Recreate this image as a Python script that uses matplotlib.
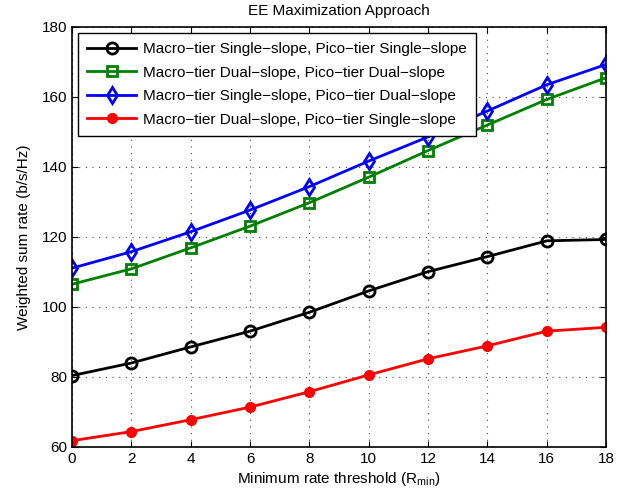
import numpy as np
import matplotlib
matplotlib.use("Agg")
import matplotlib.pyplot as plt

# Données
r_min = [0, 2, 4, 6, 8, 10, 12, 14, 16, 18]
ss_ss = [80.4, 84.0, 88.6, 93.1, 98.5, 104.6, 110.1, 114.4, 118.9, 119.3]
ds_ds = [106.5, 110.9, 116.9, 123.1, 129.8, 137.1, 144.7, 152.0, 159.3, 165.5]
ss_ds = [111.1, 115.8, 121.5, 127.7, 134.4, 141.7, 148.6, 156.0, 163.5, 169.3]
ds_ss = [61.8, 64.4, 67.8, 71.4, 75.8, 80.6, 85.2, 88.9, 93.1, 94.2]

labels = [
    "Macro\u2212tier Single\u2212slope, Pico\u2212tier Single\u2212slope",
    "Macro\u2212tier Dual\u2212slope, Pico\u2212tier Dual\u2212slope",
    "Macro\u2212tier Single\u2212slope, Pico\u2212tier Dual\u2212slope",
    "Macro\u2212tier Dual\u2212slope, Pico\u2212tier Single\u2212slope",
]

plt.rcParams['font.family'] = ['Liberation Sans', 'DejaVu Sans']
plt.rcParams['mathtext.default'] = 'regular'
plt.rcParams['font.size'] = 11

fig = plt.figure(figsize=(6.34, 5.0), dpi=100)
ax = fig.add_axes([0.1136, 0.106, 0.8424, 0.84])

ax.plot(r_min, ss_ss, color='black', lw=2, marker='o', ms=8, mfc='none', mew=2, label=labels[0])
ax.plot(r_min, ds_ds, color='#008000', lw=2, marker='s', ms=7, mfc='none', mew=2, label=labels[1])
ax.plot(r_min, ss_ds, color='blue', lw=2, marker='d', ms=8, mfc='none', mew=2, label=labels[2])
ax.plot(r_min, ds_ss, color='red', lw=2, marker='o', ms=7, mfc='red', mec='red', label=labels[3])

ax.set_xlim(0, 18)
ax.set_ylim(60, 180)
ax.set_xticks(np.arange(0, 19, 2))
ax.set_yticks(np.arange(60, 181, 20))
ax.tick_params(direction='in', top=True, right=True, length=4, labelsize=11)
ax.grid(True, linestyle=(0, (1, 5)), color='#444444', lw=0.8)
for s in ax.spines.values():
    s.set_linewidth(1.2)

ax.set_xlabel("Minimum rate threshold (R$_{min}$)", fontsize=11, labelpad=3)
ax.set_ylabel("Weighted sum rate (b/s/Hz)", fontsize=11, labelpad=8)
ax.set_title("EE Maximization Approach", fontsize=11, pad=9)

leg = ax.legend(loc='upper left', fontsize=11, handlelength=3.2, handletextpad=0.45,
                borderaxespad=0.4, borderpad=0.6, labelspacing=0.62,
                fancybox=False, edgecolor='black', framealpha=1)
leg.get_frame().set_linewidth(1.0)

plt.savefig("out.png", dpi=100)
